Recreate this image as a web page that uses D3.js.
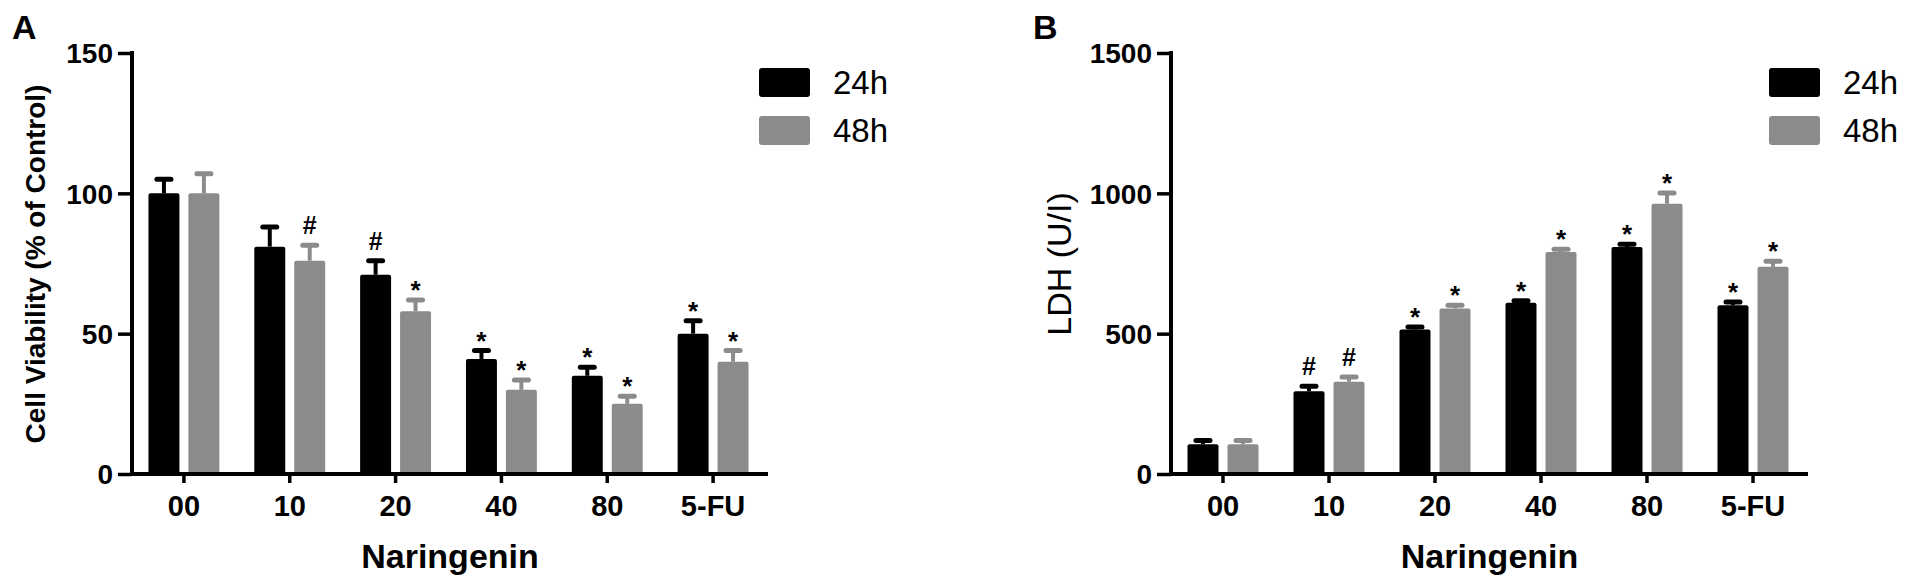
<!DOCTYPE html>
<html>
<head>
<meta charset="utf-8">
<script src="https://cdn.jsdelivr.net/npm/d3@7"></script>
<style>
  html, body { margin: 0; padding: 0; background: #fff; }
  svg { display: block; }
  text { font-family: "Liberation Sans", Arial, Helvetica, sans-serif; fill: #000; }
</style>
</head>
<body>
<svg id="chart" width="1913" height="585"></svg>
<script>
// ---------------- data ----------------
const categories = ["00", "10", "20", "40", "80", "5-FU"];
const seriesNames = ["24h", "48h"];

// Panel A: Cell viability (% of control)
const viability24 = [100, 81, 71, 41, 35, 50];
const viability24Err = [5, 7, 5, 3, 3, 4.6];
const viability48 = [100, 76, 58, 30, 25, 40];
const viability48Err = [7, 5.5, 4, 3.5, 2.7, 4];
const viabilityMarks24 = ["", "", "#", "*", "*", "*"];
const viabilityMarks48 = ["", "#", "*", "*", "*", "*"];
const viabilityTicks = [0, 50, 100, 150];

// Panel B: LDH (U/I)
const ldh24 = [106, 295, 515, 610, 809, 601];
const ldh24Err = [13, 18, 9, 7, 10, 12];
const ldh48 = [106, 329, 590, 791, 963, 738];
const ldh48Err = [13, 17, 11, 10, 38, 20];
const ldhMarks24 = ["", "#", "*", "*", "*", "*"];
const ldhMarks48 = ["", "#", "*", "*", "*", "*"];
const ldhTicks = [0, 500, 1000, 1500];

const colors = ["#000000", "#8b8b8b"];

// ---------------- drawing ----------------
const svg = d3.select("#chart");
const FONT = '"Liberation Sans", Arial, Helvetica, sans-serif';

function panel(opts) {
  const g = svg.append("g");
  const axisX0 = opts.axisX0, axisX1 = opts.axisX1;
  const y0 = 474, yTop = 53;

  const x0 = d3.scaleBand().domain(categories)
    .range([axisX0 - 1, axisX1 - 2])
    .paddingInner(0.33).paddingOuter(0.165);
  const x1 = d3.scaleBand().domain(seriesNames)
    .range([0, x0.bandwidth()]).paddingInner(0.225);
  const y = d3.scaleLinear().domain(opts.domain).range([y0, yTop]);

  const rows = categories.map((c, i) => ({
    cat: c,
    vals: [
      { s: seriesNames[0], v: opts.v24[i], e: opts.e24[i], m: opts.m24[i] },
      { s: seriesNames[1], v: opts.v48[i], e: opts.e48[i], m: opts.m48[i] }
    ]
  }));

  // bars
  const grp = g.selectAll("g.grp").data(rows).enter().append("g")
    .attr("transform", d => `translate(${x0(d.cat)},0)`);

  grp.selectAll("rect").data(d => d.vals).enter().append("rect")
    .attr("x", d => x1(d.s))
    .attr("width", x1.bandwidth())
    .attr("y", d => y(d.v))
    .attr("height", d => y0 - y(d.v))
    .attr("rx", 2)
    .attr("fill", (d, i) => colors[i]);

  // error bars (upper only)
  grp.selectAll("line.stem").data(d => d.vals).enter().append("line")
    .attr("x1", d => x1(d.s) + x1.bandwidth() / 2)
    .attr("x2", d => x1(d.s) + x1.bandwidth() / 2)
    .attr("y1", d => y(d.v))
    .attr("y2", d => y(d.v + d.e))
    .attr("stroke", (d, i) => colors[i])
    .attr("stroke-width", 4);
  grp.selectAll("line.cap").data(d => d.vals).enter().append("line")
    .attr("x1", d => x1(d.s) + x1.bandwidth() / 2 - 7)
    .attr("x2", d => x1(d.s) + x1.bandwidth() / 2 + 7)
    .attr("y1", d => y(d.v + d.e))
    .attr("y2", d => y(d.v + d.e))
    .attr("stroke", (d, i) => colors[i])
    .attr("stroke-width", 5)
    .attr("stroke-linecap", "round");

  // significance marks
  grp.selectAll("text.mark").data(d => d.vals.filter(v => v.m)).enter().append("text")
    .attr("x", d => x1(d.s) + x1.bandwidth() / 2)
    .attr("y", d => d.m === "#" ? y(d.v + d.e) - 20 + 9 : y(d.v + d.e) - 15 + 14)
    .attr("text-anchor", "middle")
    .attr("font-weight", "bold")
    .attr("font-size", d => d.m === "#" ? 25 : 26)
    .text(d => d.m);

  // y axis
  const yAxis = d3.axisLeft(y).tickValues(opts.ticks).tickSize(14).tickPadding(5)
    .tickFormat(d3.format("d"));
  const ya = g.append("g").attr("transform", `translate(${axisX0},0)`).call(yAxis);
  ya.select(".domain").attr("stroke", "#000").attr("stroke-width", 4)
    .attr("d", `M0,${y0 + 2}V${yTop - 2}`);
  ya.selectAll(".tick line").attr("stroke", "#000").attr("stroke-width", 3.5);
  ya.selectAll(".tick text").attr("font-family", FONT).attr("font-size", 28)
    .attr("font-weight", "bold").attr("fill", "#000").attr("dy", "0.35em");

  // x axis
  const xAxis = d3.axisBottom(x0).tickSize(9).tickPadding(12).tickSizeOuter(0);
  const xa = g.append("g").attr("transform", `translate(0,${y0})`).call(xAxis);
  xa.select(".domain").attr("stroke", "#000").attr("stroke-width", 4)
    .attr("d", `M${axisX0 - 2},0H${axisX1}`);
  xa.selectAll(".tick line").attr("stroke", "#000").attr("stroke-width", 3.5);
  xa.selectAll(".tick text").attr("font-family", FONT).attr("font-size", 29)
    .attr("font-weight", "bold").attr("fill", "#000").attr("dy", "0.71em");

  // x title
  g.append("text")
    .attr("x", (axisX0 + axisX1) / 2).attr("y", 568)
    .attr("text-anchor", "middle").attr("font-weight", "bold").attr("font-size", 34)
    .text("Naringenin");

  // y title
  g.append("text")
    .attr("transform", `translate(${opts.yTitleX},264) rotate(-90)`)
    .attr("text-anchor", "middle")
    .attr("font-weight", opts.yTitleBold ? "bold" : "normal")
    .attr("font-size", opts.yTitleSize)
    .text(opts.yTitle);

  // panel letter
  g.append("text").attr("x", opts.letterX).attr("y", 39)
    .attr("font-weight", "bold").attr("font-size", 34).text(opts.letter);

  // legend
  const lg = g.append("g").attr("transform", `translate(${opts.legendX},0)`);
  const lrows = lg.selectAll("g").data(seriesNames).enter().append("g")
    .attr("transform", (d, i) => `translate(0,${68 + i * 48})`);
  lrows.append("rect").attr("width", 51).attr("height", 29).attr("rx", 3)
    .attr("fill", (d, i) => colors[i]);
  lrows.append("text").attr("x", 74).attr("y", 26).attr("font-size", 33).text(d => d);
}

panel({
  axisX0: 132, axisX1: 768, domain: [0, 150], ticks: viabilityTicks,
  v24: viability24, e24: viability24Err, v48: viability48, e48: viability48Err,
  m24: viabilityMarks24, m48: viabilityMarks48,
  yTitle: "Cell Viability (% of Control)", yTitleX: 45, yTitleBold: true, yTitleSize: 28,
  letter: "A", letterX: 12, legendX: 759
});

panel({
  axisX0: 1171, axisX1: 1808, domain: [0, 1500], ticks: ldhTicks,
  v24: ldh24, e24: ldh24Err, v48: ldh48, e48: ldh48Err,
  m24: ldhMarks24, m48: ldhMarks48,
  yTitle: "LDH (U/I)", yTitleX: 1071, yTitleBold: false, yTitleSize: 34,
  letter: "B", letterX: 1033, legendX: 1769
});
</script>
</body>
</html>
